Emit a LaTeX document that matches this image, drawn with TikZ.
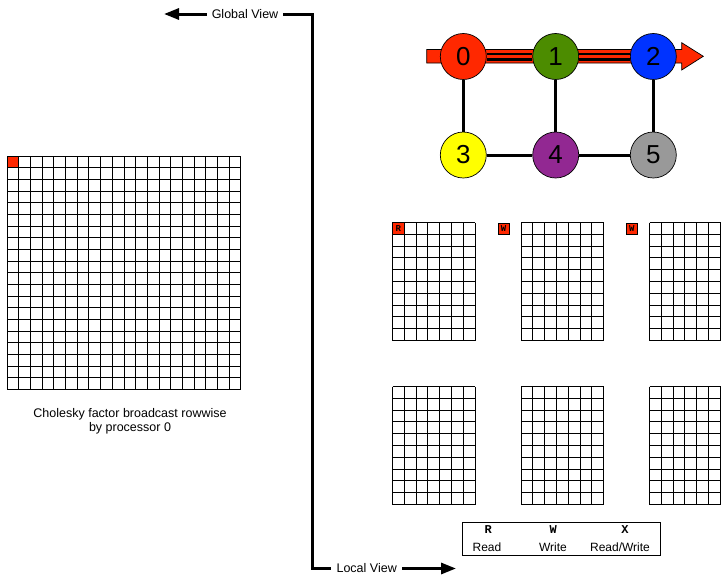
\documentclass[tikz,border=0pt]{standalone}
\usepackage{fontspec}
\setmainfont{Liberation Sans}
\setmonofont{Liberation Mono}
\usetikzlibrary{arrows.meta}
\definecolor{pred}{RGB}{255,40,0}
\definecolor{pgreen}{RGB}{76,140,0}
\definecolor{pblue}{RGB}{0,51,255}
\definecolor{pyellow}{RGB}{255,255,0}
\definecolor{ppurple}{RGB}{146,40,146}
\definecolor{pgray}{RGB}{153,153,153}
\tikzset{
  gridline/.style={line width=1pt,black},
  proc/.style={circle,draw=black,line width=0.7pt,minimum size=46pt,inner sep=0pt,font=\fontsize{26}{26}\selectfont},
  link/.style={line width=3pt,black},
  dlink/.style={line width=2.5pt,black,double=pred,double distance=3pt},
  viewline/.style={line width=3pt,black},
  viewarrow/.style={line width=3pt,black,-{Triangle[length=15pt,width=11pt]}},
  viewlabel/.style={font=\fontsize{12.5}{14}\selectfont,inner xsep=5pt,inner ysep=2pt},
  tag/.style={draw=black,fill=pred,line width=0.8pt,minimum size=11pt,inner sep=0pt,font=\ttfamily\bfseries\fontsize{9}{9}\selectfont},
  legtext/.style={font=\fontsize{12}{14}\selectfont,inner sep=0pt},
  legcode/.style={font=\ttfamily\bfseries\fontsize{12}{14}\selectfont,inner sep=0pt}
}
\begin{document}
\begin{tikzpicture}[x=1pt,y=-1pt]
\useasboundingbox (0,0) rectangle (721,576);
% global grid
\fill[pred] (7.3,156) rectangle ++(11.67,11.67);
\foreach \i in {0,...,20} {
  \draw[gridline] (7.3+\i*11.67,156) -- ++(0,233.4);
  \draw[gridline] (7.3,156+\i*11.67) -- ++(233.4,0);
}
\node[font=\fontsize{12.5}{14}\selectfont,align=center] (cap) at (130,421) {Cholesky factor broadcast rowwise\\by processor 0};
% local grids
\foreach \gx/\gy in {392.5/222.5, 521/222.5, 649.5/222.5, 392.5/386.5, 521/386.5, 649.5/386.5} {
  \foreach \i in {0,...,7} \draw[gridline] (\gx+\i*11.8,\gy) -- ++(0,118);
  \foreach \j in {0,...,10} \draw[gridline] (\gx,\gy+\j*11.8) -- ++(82.6,0);
}
\node[tag,minimum size=11.8pt] (r0) at (398.4,228.4) {R};
\node[tag] (w1) at (503.5,229) {W};
\node[tag] (w2) at (631.8,229) {W};
% red broadcast arrow
\draw[fill=pred,draw=black,line width=0.7pt] (426.7,49.5) -- (681.7,49.5) -- (681.7,42.7) -- (703.3,56.3) -- (681.7,70) -- (681.7,63) -- (426.7,63) -- cycle;
% processors
\node[proc,fill=pred] (p0) at (463.3,56.5) {0};
\node[proc,fill=pgreen] (p1) at (555.7,56.5) {1};
\node[proc,fill=pblue] (p2) at (653.3,56.5) {2};
\node[proc,fill=pyellow] (p3) at (463.3,155) {3};
\node[proc,fill=ppurple] (p4) at (555.7,155) {4};
\node[proc,fill=pgray] (p5) at (653.3,155) {5};
\draw[dlink] (p0) -- (p1);
\draw[dlink] (p1) -- (p2);
\draw[link] (p0) -- (p3);
\draw[link] (p1) -- (p4);
\draw[link] (p2) -- (p5);
\draw[link] (p3) -- (p4);
\draw[link] (p4) -- (p5);
% global / local view
\node[viewlabel] (gv) at (245,14) {Global View};
\node[viewlabel] (lv) at (366.7,568.5) {Local View};
\coordinate (gtip) at (164,14);
\coordinate (ltip) at (456,568.5);
\coordinate (c1) at (312.5,14);
\coordinate (c2) at (312.5,568.5);
\draw[viewline] (gv.east) -- (c1) -- (c2) -- (lv.west);
\draw[viewarrow] (gv.west) -- (gtip);
\draw[viewarrow] (lv.east) -- (ltip);
% legend
\node[draw=black,line width=0.8pt,minimum width=198pt,minimum height=33.4pt,inner sep=0pt] (leg) at (561.7,539) {};
\node[legcode] (lr) at (488.3,530) {R};
\node[legcode] (lw) at (553.3,530) {W};
\node[legcode] (lx) at (625,530) {X};
\node[legtext] (tr) at (487,547.7) {Read};
\node[legtext] (tw) at (553,547.7) {Write};
\node[legtext] (tx) at (620,547.7) {Read/Write};
\end{tikzpicture}
\end{document}
